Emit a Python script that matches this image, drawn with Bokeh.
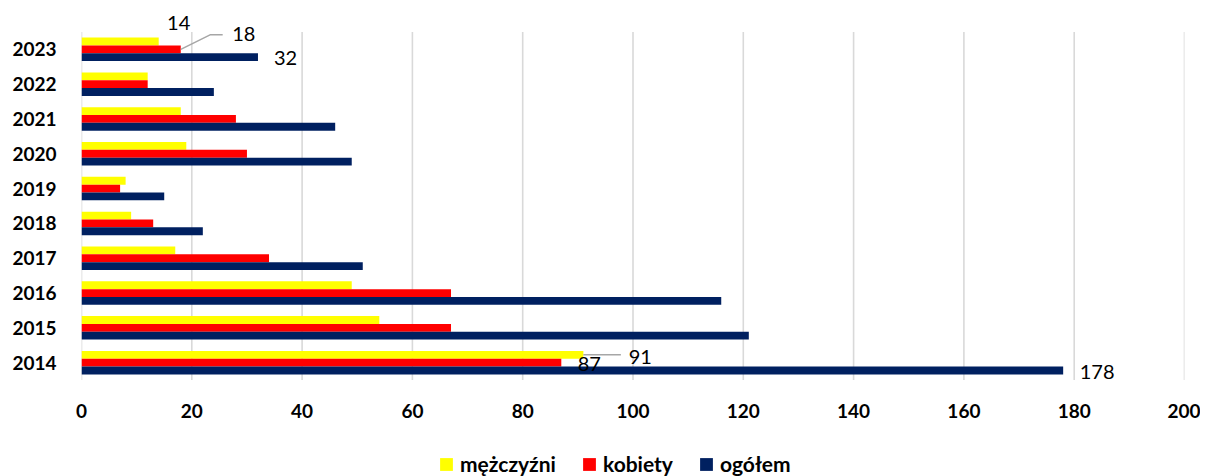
from bokeh.plotting import figure
from bokeh.layouts import column
from bokeh.models import ColumnDataSource, FactorRange, Range1d, Legend, LegendItem, FixedTicker
from bokeh.transform import dodge
from bokeh.core.properties import value
from bokeh.embed import file_html
from bokeh.resources import INLINE

# ---- data ----
years = ["2014", "2015", "2016", "2017", "2018", "2019", "2020", "2021", "2022", "2023"]
men = [91, 54, 49, 17, 9, 8, 19, 18, 12, 14]          # mężczyźni
women = [87, 67, 67, 34, 13, 7, 30, 28, 12, 18]       # kobiety
total = [178, 121, 116, 51, 22, 15, 49, 46, 24, 32]   # ogółem
series_names = ["mężczyźni", "kobiety", "ogółem"]
x_ticks = [0, 20, 40, 60, 80, 100, 120, 140, 160, 180, 200]
labeled_years = ["2023", "2014"]

# ---- style ----
colors = ["#FFFF00", "#FF0000", "#002060"]
offsets = [0.225, 0.0, -0.225]
bar_h = 0.225
FONT = "Lato"
PAD = 0.5
# label offsets (px) per series, per labeled year (2023, 2014)
lab_xo = [[20, 57], [63, 28], [27.5, 34]]
lab_yo = [[-18, 2], [-15, 1], [1, 1]]

p = figure(width=1200, height=440, frame_width=1103, frame_height=383,
           y_range=FactorRange(factors=years, range_padding=PAD, range_padding_units="absolute"),
           x_range=Range1d(0, 200),
           output_backend="svg", toolbar_location=None,
           min_border_left=81, min_border_right=16,
           min_border_top=14, min_border_bottom=43)
p.outline_line_color = None
p.background_fill_color = "white"
p.border_fill_color = "white"

src = ColumnDataSource(dict(year=years, men=men, women=women, total=total))
fields = ["men", "women", "total"]
series_vals = [men, women, total]

# grid lines (limited to category area)
grid_src = ColumnDataSource(dict(x=x_ticks,
                                 y0=[(years[0], -0.5)] * len(x_ticks),
                                 y1=[(years[-1], 0.5)] * len(x_ticks)))
p.segment(x0="x", x1="x", y0="y0", y1="y1", source=grid_src,
          line_color="#D9D9D9", line_width=1.6)

for f, c, o in zip(fields, colors, offsets):
    p.hbar(y=dodge("year", o, range=p.y_range), right=f, left=0, height=bar_h,
           fill_color=c, line_color=None, source=src)

# axes
p.xaxis.ticker = FixedTicker(ticks=x_ticks)
p.xgrid.grid_line_color = None
p.ygrid.grid_line_color = None
for ax in (p.xaxis[0], p.yaxis[0]):
    ax.axis_line_color = None
    ax.major_tick_line_color = None
    ax.minor_tick_line_color = None
    ax.major_tick_out = 0
    ax.major_label_text_font = FONT
    ax.major_label_text_font_style = "bold"
    ax.major_label_text_font_size = "19px"
    ax.major_label_text_color = "#000000"
p.xaxis.major_label_standoff = 6
p.yaxis.major_label_standoff = 25

# leader lines
idx23 = years.index("2023")
idx14 = years.index("2014")
lead1 = ColumnDataSource(dict(
    x=[women[idx23], women[idx23] + 5.4, women[idx23] + 7.6],
    y=[("2023", 0.0), ("2023", 0.42), ("2023", 0.42)]))
p.line(x="x", y="y", source=lead1, line_color="#A6A6A6", line_width=1.5)
lead2 = ColumnDataSource(dict(
    x=[men[idx14], men[idx14] + 6.8],
    y=[("2014", 0.225), ("2014", 0.225)]))
p.line(x="x", y="y", source=lead2, line_color="#A6A6A6", line_width=1.5)

# data labels
for k in range(3):
    vals = [series_vals[k][years.index(yy)] for yy in labeled_years]
    ls = ColumnDataSource(dict(x=vals, y=labeled_years, t=[str(v) for v in vals],
                               xo=lab_xo[k], yo=lab_yo[k]))
    p.text(x="x", y=dodge("y", offsets[k], range=p.y_range), text="t",
           x_offset="xo", y_offset="yo", source=ls,
           text_font=value(FONT), text_font_size="20px", text_color="#000000",
           text_align="center", text_baseline="middle")

# ---- legend strip (separate figure below) ----
pl = figure(width=1200, height=36, x_range=Range1d(0, 200),
            y_range=FactorRange(factors=years),
            output_backend="svg", toolbar_location=None,
            x_axis_type=None, y_axis_type=None,
            min_border_left=0, min_border_right=0, min_border_top=0, min_border_bottom=0)
pl.outline_line_color = None
pl.xgrid.grid_line_color = None
pl.ygrid.grid_line_color = None
leg_renderers = []
for f, c in zip(fields, colors):
    r = pl.hbar(y="year", right=f, left=0, height=bar_h, fill_color=c, line_color=None,
                source=src, visible=False)
    leg_renderers.append(r)

legend = Legend(items=[LegendItem(label=n, renderers=[r]) for n, r in zip(series_names, leg_renderers)],
                orientation="horizontal", location=(357, 0),
                glyph_width=16, glyph_height=16, label_standoff=6, spacing=25,
                padding=0, margin=0, border_line_color=None, background_fill_alpha=0,
                label_text_font=FONT, label_text_font_style="bold",
                label_text_font_size="21px", label_text_color="#000000")
pl.add_layout(legend)

open("out.html", "w").write(file_html(column(p, pl), INLINE))
